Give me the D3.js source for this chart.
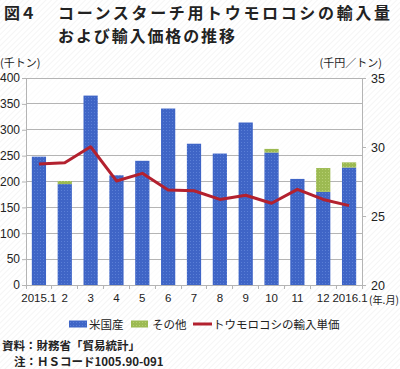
<!DOCTYPE html>
<html><head><meta charset="utf-8">
<script src="https://cdn.jsdelivr.net/npm/d3@7/dist/d3.min.js"></script>
<style>
html,body{margin:0;padding:0;background:#fff;}
svg{display:block;}
text{font-family:"Liberation Sans",Arial,sans-serif;}
.jp{font-family:"Noto Sans CJK JP",sans-serif;}
</style></head>
<body>
<svg id="chart" width="400" height="369"></svg>
<script>
const categories = ["2015.1","2","3","4","5","6","7","8","9","10","11","12","2016.1"];
const usValues    = [248,195,366,212,240,341,273,254,314,256,205,180,227];
const otherValues = [0,6,0,0,0,0,0,0,0,7,0,46,10];
const priceValues = [28.77,28.86,30.02,27.54,28.09,26.88,26.83,26.2,26.5,25.92,26.93,26.2,25.75];
const leftTicks  = [0,50,100,150,200,250,300,350,400];
const rightTicks = [20,25,30,35];
const seriesNames = ["米国産","その他","トウモロコシの輸入単価"];
const colors = {us:"#3f65c6", other:"#9cba52", line:"#b3212f", grid:"#b4b4b4"};

const svg = d3.select("#chart");
const defs = svg.append("defs");
const pat = defs.append("pattern").attr("id","hatch").attr("patternUnits","userSpaceOnUse")
  .attr("width",4).attr("height",4).attr("patternTransform","rotate(45)");
pat.append("rect").attr("width",4).attr("height",4).attr("fill","#ffffff");
pat.append("line").attr("x1",0).attr("y1",0).attr("x2",0).attr("y2",4).attr("stroke","#ececec").attr("stroke-width",1);
const dots = defs.append("pattern").attr("id","dotsBlue").attr("patternUnits","userSpaceOnUse").attr("width",3).attr("height",3);
dots.append("rect").attr("width",3).attr("height",3).attr("fill",colors.us);
dots.append("rect").attr("x",1).attr("y",1).attr("width",1).attr("height",1).attr("fill","#5a7fd6");
const dotsG = defs.append("pattern").attr("id","dotsGreen").attr("patternUnits","userSpaceOnUse").attr("width",3).attr("height",3);
dotsG.append("rect").attr("width",3).attr("height",3).attr("fill",colors.other);
dotsG.append("rect").attr("x",1).attr("y",1).attr("width",1).attr("height",1).attr("fill","#b6cf72");

svg.append("rect").attr("width",400).attr("height",369).attr("fill","url(#hatch)");

const L = 26, R = 362, T = 78, B = 285;
const p = 0.45;
const x = d3.scaleBand().domain(categories).range([L,R]).paddingInner(p).paddingOuter(p/2);
const yL = d3.scaleLinear().domain([0,400]).range([B,T]);
const yR = d3.scaleLinear().domain([20,35]).range([B,T]);

svg.append("rect").attr("x",L).attr("y",T).attr("width",R-L).attr("height",B-T).attr("fill","#ffffff").attr("opacity",0.6);

svg.append("g").selectAll("line").data(leftTicks.filter(d=>d>0)).join("line")
  .attr("x1",L).attr("x2",R).attr("y1",d=>yL(d)).attr("y2",d=>yL(d))
  .attr("stroke",colors.grid).attr("stroke-width",1).attr("shape-rendering","crispEdges");

const gL = svg.append("g").attr("transform",`translate(${L},0)`)
  .call(d3.axisLeft(yL).tickValues(leftTicks).tickSize(4).tickPadding(2));
gL.select(".domain").attr("stroke",colors.grid);
gL.selectAll(".tick line").attr("stroke",colors.grid);
gL.selectAll("text").attr("font-size","12px").attr("fill","#222").attr("font-family","Liberation Sans, Arial, sans-serif");

const gR = svg.append("g").attr("transform",`translate(${R},0)`)
  .call(d3.axisRight(yR).tickValues(rightTicks).tickSize(4).tickPadding(5));
gR.select(".domain").attr("stroke",colors.grid);
gR.selectAll(".tick line").attr("stroke",colors.grid);
gR.selectAll("text").attr("font-size","12.5px").attr("fill","#222").attr("font-family","Liberation Sans, Arial, sans-serif");

const gX = svg.append("g");
gX.append("line").attr("x1",L).attr("x2",R).attr("y1",B).attr("y2",B).attr("stroke",colors.grid).attr("shape-rendering","crispEdges");
const bounds = categories.map(c => x(c) - x.step()*p/2).concat([R]);
gX.selectAll("line.tk").data(bounds).join("line").attr("class","tk")
  .attr("x1",d=>d).attr("x2",d=>d).attr("y1",B).attr("y2",B+4).attr("stroke",colors.grid).attr("shape-rendering","crispEdges");
gX.selectAll("text").data(categories).join("text")
  .attr("x",(d,i)=>x(d)+x.bandwidth()/2 + (i===categories.length-1?1:0)).attr("y",B+17)
  .attr("text-anchor","middle").attr("font-size","11.5px").attr("fill","#222")
  .attr("font-family",d=>d.length>2?"Liberation Sans Narrow, Liberation Sans, sans-serif":"Liberation Sans, Arial, sans-serif")
  .text(d=>d);
svg.append("text").attr("class","jp").attr("x",369).attr("y",B+19).attr("font-size","10.5px").attr("fill","#222")
  .attr("textLength",30).attr("lengthAdjust","spacingAndGlyphs").text("(年.月)");

const bars = svg.append("g");
bars.selectAll("rect.us").data(categories).join("rect").attr("class","us")
  .attr("x",d=>x(d)).attr("width",x.bandwidth())
  .attr("y",(d,i)=>yL(usValues[i])).attr("height",(d,i)=>yL(0)-yL(usValues[i]))
  .attr("fill","url(#dotsBlue)");
bars.selectAll("rect.ot").data(categories).join("rect").attr("class","ot")
  .attr("x",d=>x(d)).attr("width",x.bandwidth())
  .attr("y",(d,i)=>yL(usValues[i]+otherValues[i])).attr("height",(d,i)=>yL(usValues[i])-yL(usValues[i]+otherValues[i]))
  .attr("fill","url(#dotsGreen)");

const line = d3.line().x((d,i)=>x(categories[i])+x.bandwidth()/2).y(d=>yR(d));
svg.append("path").datum(priceValues).attr("d",line).attr("fill","none")
  .attr("stroke",colors.line).attr("stroke-width",3).attr("stroke-linejoin","round");

svg.append("text").attr("class","jp").attr("x",0).attr("y",67).attr("font-size","11px").attr("fill","#222").text("(千トン)");
svg.append("text").attr("class","jp").attr("x",382).attr("y",67).attr("text-anchor","end").attr("font-size","11px").attr("fill","#222").text("(千円／トン)");

svg.append("text").attr("class","jp").attr("x",4).attr("y",19).attr("font-size","16px").attr("font-weight","bold").attr("fill","#222").text("図４");
svg.append("text").attr("class","jp").attr("x",58).attr("y",19).attr("font-size","16px").attr("font-weight","bold").attr("fill","#222")
  .attr("textLength",332).attr("lengthAdjust","spacing").text("コーンスターチ用トウモロコシの輸入量");
svg.append("text").attr("class","jp").attr("x",58).attr("y",42).attr("font-size","16px").attr("font-weight","bold").attr("fill","#222")
  .attr("textLength",177).attr("lengthAdjust","spacing").text("および輸入価格の推移");

const lg = svg.append("g");
lg.append("rect").attr("x",69).attr("y",320.5).attr("width",18).attr("height",7).attr("fill","url(#dotsBlue)");
lg.append("text").attr("class","jp").attr("x",89).attr("y",328.5).attr("font-size","11.5px").attr("fill","#222").text(seriesNames[0]);
lg.append("rect").attr("x",131).attr("y",320.5).attr("width",17).attr("height",7).attr("fill","url(#dotsGreen)");
lg.append("text").attr("class","jp").attr("x",152).attr("y",328.5).attr("font-size","11.5px").attr("fill","#222").text(seriesNames[1]);
lg.append("line").attr("x1",193).attr("x2",212).attr("y1",324).attr("y2",324).attr("stroke",colors.line).attr("stroke-width",3);
lg.append("text").attr("class","jp").attr("x",213).attr("y",328.5).attr("font-size","11.5px").attr("fill","#222").text(seriesNames[2]);

svg.append("text").attr("class","jp").attr("x",2).attr("y",350).attr("font-size","11.5px").attr("font-weight","bold").attr("fill","#222").text("資料：財務省「貿易統計」");
svg.append("text").attr("class","jp").attr("x",14).attr("y",366).attr("font-size","11.5px").attr("font-weight","bold").attr("fill","#222").text("注：ＨＳコード1005.90-091");
</script>
</body></html>
